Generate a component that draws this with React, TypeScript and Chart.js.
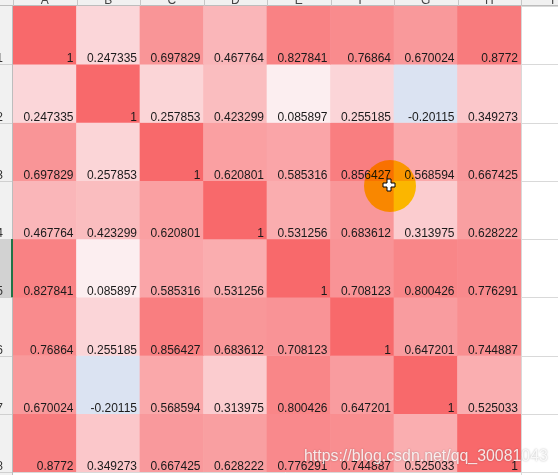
import React, { useEffect, useRef } from "react";
import { Chart, registerables } from "chart.js";

Chart.register(...registerables);

const W = 558;
const H = 475;

// Sheet column letters (A–H hold data, I is the next, empty column)
const columns = ["A", "B", "C", "D", "E", "F", "G", "H"];
const nextColumn = "I";
const rowLabels = ["1", "2", "3", "4", "5", "6", "7", "8"];

// Correlation matrix rows
const row1 = [1, 0.247335, 0.697829, 0.467764, 0.827841, 0.76864, 0.670024, 0.8772];
const row2 = [0.247335, 1, 0.257853, 0.423299, 0.085897, 0.255185, -0.20115, 0.349273];
const row3 = [0.697829, 0.257853, 1, 0.620801, 0.585316, 0.856427, 0.568594, 0.667425];
const row4 = [0.467764, 0.423299, 0.620801, 1, 0.531256, 0.683612, 0.313975, 0.628222];
const row5 = [0.827841, 0.085897, 0.585316, 0.531256, 1, 0.708123, 0.800426, 0.776291];
const row6 = [0.76864, 0.255185, 0.856427, 0.683612, 0.708123, 1, 0.647201, 0.744887];
const row7 = [0.670024, -0.20115, 0.568594, 0.313975, 0.800426, 0.647201, 1, 0.525033];
const row8 = [0.8772, 0.349273, 0.667425, 0.628222, 0.776291, 0.744887, 0.525033, 1];
const matrix = [row1, row2, row3, row4, row5, row6, row7, row8];

// 3-colour scale (blue – white – red)
const scaleMin = -1;
const scaleMid = 0;
const scaleMax = 1;
const colorMin = [90, 138, 198];
const colorMid = [252, 250, 253];
const colorMax = [248, 105, 107];

const selectedRow = 4; // row "5" header highlighted
const watermark = "https://blog.csdn.net/qq_30081043";

function mix(a: number[], b: number[], t: number) {
  const c = a.map((v, i) => Math.round(v + (b[i] - v) * t));
  return `rgb(${c[0]},${c[1]},${c[2]})`;
}

function cellColor(v: number) {
  if (v >= scaleMid) return mix(colorMid, colorMax, Math.min(1, (v - scaleMid) / (scaleMax - scaleMid)));
  return mix(colorMid, colorMin, Math.min(1, (scaleMid - v) / (scaleMid - scaleMin)));
}

const CELL_FONT = '12px "Liberation Sans", Arial, sans-serif';

const sheetPlugin = {
  id: "sheet",
  beforeDraw(chart: any) {
    const { ctx, chartArea } = chart;
    const x = chart.scales.x;
    const y = chart.scales.y;
    const colW = x.getPixelForValue(1) - x.getPixelForValue(0);
    ctx.save();
    ctx.fillStyle = "#ffffff";
    ctx.fillRect(0, 0, W, H);

    // gridlines in the empty area to the right
    ctx.strokeStyle = "#d9d9d9";
    ctx.lineWidth = 1;
    for (let i = 0; i <= rowLabels.length; i++) {
      const yy = Math.round(y.getPixelForValue(i)) + 0.5;
      ctx.beginPath();
      ctx.moveTo(chartArea.left, yy);
      ctx.lineTo(W, yy);
      ctx.stroke();
    }
    ctx.beginPath();
    ctx.moveTo(Math.round(chartArea.right) + 0.5, chartArea.top);
    ctx.lineTo(Math.round(chartArea.right) + 0.5, H);
    ctx.stroke();

    // column header strip
    ctx.fillStyle = "#f1f1f1";
    ctx.fillRect(0, 0, W, chartArea.top);
    ctx.strokeStyle = "#bdbdbd";
    ctx.beginPath();
    ctx.moveTo(0, chartArea.top - 0.5);
    ctx.lineTo(W, chartArea.top - 0.5);
    ctx.stroke();
    const letters = [...columns, nextColumn];
    ctx.font = CELL_FONT;
    ctx.textAlign = "center";
    ctx.textBaseline = "alphabetic";
    letters.forEach((c, j) => {
      const cx = x.getPixelForValue(0) + j * colW;
      const left = Math.round(cx - colW / 2) + 0.5;
      ctx.strokeStyle = "#c6c6c6";
      ctx.beginPath();
      ctx.moveTo(left, 0);
      ctx.lineTo(left, chartArea.top);
      ctx.stroke();
      ctx.fillStyle = "#444444";
      ctx.fillText(c, cx, chartArea.top - 2.5);
    });
    ctx.restore();
  },
  afterDraw(chart: any) {
    const { ctx, chartArea } = chart;
    const y = chart.scales.y;
    ctx.save();
    // row header column
    ctx.fillStyle = "#f1f1f1";
    ctx.fillRect(0, chartArea.top, chartArea.left, chartArea.bottom - chartArea.top + 10);
    rowLabels.forEach((lab, i) => {
      const top = y.getPixelForValue(i);
      const bottom = y.getPixelForValue(i + 1);
      if (i === selectedRow) {
        ctx.fillStyle = "#d2d2d2";
        ctx.fillRect(0, top, chartArea.left, bottom - top);
      }
      ctx.strokeStyle = "#d0d0d0";
      ctx.lineWidth = 1;
      ctx.beginPath();
      ctx.moveTo(0, Math.round(bottom) + 0.5);
      ctx.lineTo(chartArea.left, Math.round(bottom) + 0.5);
      ctx.stroke();
      ctx.fillStyle = "#333333";
      ctx.font = CELL_FONT;
      ctx.textAlign = "right";
      ctx.textBaseline = "alphabetic";
      ctx.fillText(lab, 3, bottom - 2);
    });
    ctx.strokeStyle = "#bdbdbd";
    ctx.beginPath();
    ctx.moveTo(chartArea.left - 0.5, chartArea.top);
    ctx.lineTo(chartArea.left - 0.5, H);
    ctx.stroke();
    const sTop = y.getPixelForValue(selectedRow);
    const sBot = y.getPixelForValue(selectedRow + 1);
    ctx.fillStyle = "#217346";
    ctx.fillRect(chartArea.left - 2, sTop, 2, sBot - sTop);

    // cell values
    ctx.font = CELL_FONT;
    ctx.textAlign = "right";
    ctx.textBaseline = "alphabetic";
    ctx.fillStyle = "#1a1a1a";
    chart.data.datasets.forEach((ds: any, i: number) => {
      const meta = chart.getDatasetMeta(i);
      meta.data.forEach((bar: any, j: number) => {
        const p = bar.getProps(["x", "y", "base", "width"], true);
        const right = p.x + p.width / 2 - 3;
        const bottom = Math.max(p.y, p.base) - 2;
        ctx.fillText(String(ds.data[j].v), right, bottom);
      });
    });

    // screen-recorder cursor highlight
    ctx.globalCompositeOperation = "multiply";
    ctx.fillStyle = "rgb(255,228,0)";
    ctx.beginPath();
    ctx.arc(390, 186, 26, 0, Math.PI * 2);
    ctx.fill();
    ctx.globalCompositeOperation = "source-over";
    ctx.fillStyle = "#ffffff";
    ctx.strokeStyle = "#000000";
    ctx.lineWidth = 1;
    ctx.beginPath();
    const cx = 389, cy = 185;
    ctx.moveTo(cx - 2, cy - 6);
    ctx.lineTo(cx + 2, cy - 6);
    ctx.lineTo(cx + 2, cy - 2);
    ctx.lineTo(cx + 6, cy - 2);
    ctx.lineTo(cx + 6, cy + 2);
    ctx.lineTo(cx + 2, cy + 2);
    ctx.lineTo(cx + 2, cy + 6);
    ctx.lineTo(cx - 2, cy + 6);
    ctx.lineTo(cx - 2, cy + 2);
    ctx.lineTo(cx - 6, cy + 2);
    ctx.lineTo(cx - 6, cy - 2);
    ctx.lineTo(cx - 2, cy - 2);
    ctx.closePath();
    ctx.fill();
    ctx.stroke();

    // watermark, sized to span x 304..548
    ctx.font = '15px "Liberation Sans", Arial, sans-serif';
    const w15 = ctx.measureText(watermark).width;
    const size = (15 * 244) / w15;
    ctx.font = `${size.toFixed(2)}px "Liberation Sans", Arial, sans-serif`;
    ctx.textAlign = "left";
    ctx.shadowColor = "rgba(0,0,0,0.35)";
    ctx.shadowBlur = 2;
    ctx.fillStyle = "rgba(255,255,255,0.85)";
    ctx.fillText(watermark, 304, 461);
    ctx.restore();
  },
};

export default function App() {
  const ref = useRef<HTMLCanvasElement | null>(null);
  useEffect(() => {
    if (!ref.current) return;
    const datasets = matrix.map((row, i) => ({
      label: rowLabels[i],
      data: row.map((v, j) => ({ x: columns[j], y: [i, i + 1], v })),
      backgroundColor: row.map((v) => cellColor(v)),
      borderWidth: 0,
      barPercentage: 1,
      categoryPercentage: 1,
      grouped: false,
    }));
    const chart = new Chart(ref.current, {
      type: "bar",
      data: { labels: columns, datasets: datasets as any },
      options: {
        animation: false,
        responsive: false,
        devicePixelRatio: 1,
        layout: { padding: { left: 13, top: 6, right: 37, bottom: 3 } },
        plugins: { legend: { display: false }, tooltip: { enabled: false } },
        scales: {
          x: { type: "category", offset: true, display: false },
          y: { type: "linear", min: 0, max: 8, reverse: true, display: false },
        },
      },
      plugins: [sheetPlugin],
    });
    return () => chart.destroy();
  }, []);
  return (
    <div style={{ position: "fixed", left: 0, top: 0, width: W, height: H }}>
      <canvas ref={ref} width={W} height={H} style={{ display: "block" }} />
    </div>
  );
}
